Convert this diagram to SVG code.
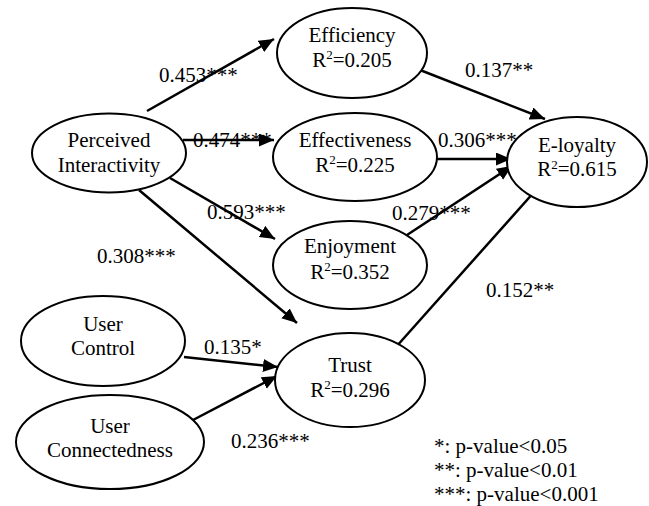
<svg xmlns="http://www.w3.org/2000/svg" width="649" height="506" viewBox="0 0 649 506">
<defs>
<marker id="ah" markerUnits="userSpaceOnUse" markerWidth="16" markerHeight="14" refX="15" refY="6.5" orient="auto">
<path d="M0,0 L15,6.5 L0,13 z" fill="#000"/>
</marker>
<style>
text{font-family:'Liberation Serif','Times New Roman',serif;font-size:21px;fill:#000}
.n ellipse{fill:#fff;stroke:#000;stroke-width:2}
.n text{text-anchor:middle}
.c line{stroke:#000;stroke-width:2.5;marker-end:url(#ah)}
.s{font-size:13px}
</style>
</defs>
<rect width="649" height="506" fill="#fff"/>
<g class="c" id="connectors">
<line x1="147" y1="111" x2="274" y2="39"/>
<line x1="183" y1="140" x2="274" y2="140"/>
<line x1="170" y1="178" x2="275" y2="239"/>
<line x1="139" y1="190" x2="297" y2="323"/>
<line x1="420" y1="70" x2="545" y2="119"/>
<line x1="437" y1="159" x2="511" y2="159"/>
<line x1="407" y1="235" x2="512" y2="166"/>
<line x1="396" y1="347" x2="543" y2="182"/>
<line x1="184" y1="357" x2="278" y2="367"/>
<line x1="193" y1="420" x2="277" y2="376"/>
</g>
<g class="n" id="perceived-interactivity">
<ellipse cx="109" cy="153" rx="77" ry="39.5"/>
<text x="109" y="147">Perceived</text>
<text x="109" y="172">Interactivity</text>
</g>
<g class="n" id="efficiency">
<ellipse cx="352" cy="53" rx="75" ry="45"/>
<text x="352" y="42">Efficiency</text>
<text x="352" y="67">R<tspan class="s" dy="-8">2</tspan><tspan dy="8">=0.205</tspan></text>
</g>
<g class="n" id="effectiveness">
<ellipse cx="355" cy="157" rx="82" ry="44"/>
<text x="355" y="147">Effectiveness</text>
<text x="355" y="172">R<tspan class="s" dy="-8">2</tspan><tspan dy="8">=0.225</tspan></text>
</g>
<g class="n" id="enjoyment">
<ellipse cx="350" cy="265" rx="77" ry="44"/>
<text x="350" y="253">Enjoyment</text>
<text x="350" y="279">R<tspan class="s" dy="-8">2</tspan><tspan dy="8">=0.352</tspan></text>
</g>
<g class="n" id="trust">
<ellipse cx="350" cy="380" rx="75" ry="47"/>
<text x="350" y="372">Trust</text>
<text x="350" y="397">R<tspan class="s" dy="-8">2</tspan><tspan dy="8">=0.296</tspan></text>
</g>
<g class="n" id="e-loyalty">
<ellipse cx="577" cy="162" rx="70" ry="45"/>
<text x="577" y="152">E-loyalty</text>
<text x="577" y="176">R<tspan class="s" dy="-7">2</tspan><tspan dy="7">=0.615</tspan></text>
</g>
<g class="n" id="user-control">
<ellipse cx="103" cy="341" rx="82" ry="45"/>
<text x="103" y="331">User</text>
<text x="103" y="355">Control</text>
</g>
<g class="n" id="user-connectedness">
<ellipse cx="110" cy="442" rx="94" ry="47"/>
<text x="110" y="433">User</text>
<text x="110" y="457">Connectedness</text>
</g>
<g id="labels">
<text x="159" y="82">0.453***</text>
<text x="193" y="147">0.474***</text>
<text x="207" y="219">0.593***</text>
<text x="97" y="263">0.308***</text>
<text x="465" y="77">0.137**</text>
<text x="438" y="147">0.306***</text>
<text x="392" y="220">0.279***</text>
<text x="486" y="297">0.152**</text>
<text x="204" y="354">0.135*</text>
<text x="231" y="448">0.236***</text>
</g>
<g id="legend">
<text x="434" y="453">*: p-value&lt;0.05</text>
<text x="434" y="477">**: p-value&lt;0.01</text>
<text x="434" y="501">***: p-value&lt;0.001</text>
</g>
</svg>
